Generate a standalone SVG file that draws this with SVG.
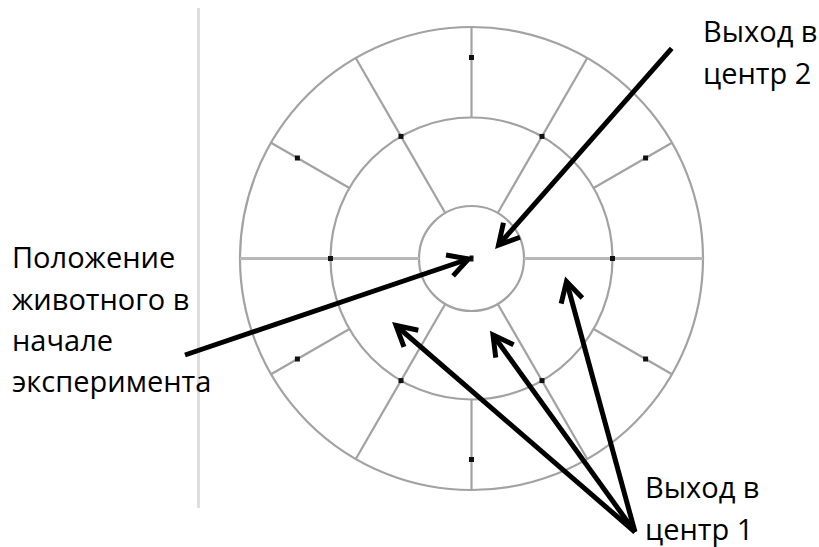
<svg xmlns="http://www.w3.org/2000/svg" xmlns:xlink="http://www.w3.org/1999/xlink" width="819" height="547" viewBox="0 0 819 547">
  <style>
    .grid { fill: none; stroke: #a2a2a2; stroke-width: 2.2; }
    .axis { fill: none; stroke: #b8b8b8; stroke-width: 3; }
    .frame { fill: none; stroke: #dedede; stroke-width: 3; }
    .arrow { fill: none; stroke: #000; stroke-width: 5; marker-end: url(#head); }
    .label { font-family: "Open Sans", "Noto Sans", "Liberation Sans", sans-serif; font-size: 29px; fill: #000; }
  </style>
  <defs>
    <marker id="head" markerUnits="userSpaceOnUse" markerWidth="40" markerHeight="40" viewBox="-30 -20 40 40" refX="0" refY="0" orient="auto" overflow="visible">
      <path d="M-20,-11 L0,0 L-20,11" fill="none" stroke="#000" stroke-width="5"/>
    </marker>
    <rect id="dot" x="-2.5" y="-2.5" width="5" height="5" fill="#111"/>
  </defs>
  <rect width="819" height="547" fill="#fff"/>

  <g id="maze">
    <line class="frame" x1="198.5" y1="8" x2="198.5" y2="508"/>
    <circle class="grid" cx="471.5" cy="258.5" r="231.5"/>
    <circle class="grid" cx="471.5" cy="258.5" r="141"/>
    <circle class="grid" cx="471.5" cy="258.5" r="52.5"/>
    <line class="axis" x1="240" y1="258.5" x2="419" y2="258.5"/>
    <line class="axis" x1="524" y1="258.5" x2="703" y2="258.5"/>
    <g class="grid">
      <line x1="593.6" y1="188" x2="672" y2="142.75"/>
      <line x1="542" y1="136.4" x2="587.25" y2="58"/>
      <line x1="471.5" y1="117.5" x2="471.5" y2="27"/>
      <line x1="401" y1="136.4" x2="355.75" y2="58"/>
      <line x1="349.4" y1="188" x2="271" y2="142.75"/>
      <line x1="349.4" y1="329" x2="271" y2="374.25"/>
      <line x1="401" y1="380.6" x2="355.75" y2="459"/>
      <line x1="471.5" y1="399.5" x2="471.5" y2="490"/>
      <line x1="542" y1="380.6" x2="587.25" y2="459"/>
      <line x1="593.6" y1="329" x2="672" y2="374.25"/>
      <line x1="497.75" y1="213.03" x2="542" y2="136.4"/>
      <line x1="445.25" y1="213.03" x2="401" y2="136.4"/>
      <line x1="445.25" y1="303.97" x2="401" y2="380.6"/>
      <line x1="497.75" y1="303.97" x2="542" y2="380.6"/>
    </g>
    <g id="dots">
      <use xlink:href="#dot" x="612.5" y="258.5"/>
      <use xlink:href="#dot" x="542" y="136.4"/>
      <use xlink:href="#dot" x="401" y="136.4"/>
      <use xlink:href="#dot" x="330.5" y="258.5"/>
      <use xlink:href="#dot" x="401" y="380.6"/>
      <use xlink:href="#dot" x="542" y="380.6"/>
      <use xlink:href="#dot" x="645.6" y="158"/>
      <use xlink:href="#dot" x="471.5" y="57.5"/>
      <use xlink:href="#dot" x="297.4" y="158"/>
      <use xlink:href="#dot" x="297.4" y="359"/>
      <use xlink:href="#dot" x="471.5" y="459.5"/>
      <use xlink:href="#dot" x="645.6" y="359"/>
      <rect x="469.5" y="255.5" width="4" height="6" fill="#111"/>
    </g>
  </g>

  <g id="connectors">
    <line class="arrow" x1="671.7" y1="48.3" x2="498.5" y2="245"/>
    <line class="arrow" x1="185" y1="355" x2="468.5" y2="259"/>
    <line class="arrow" x1="635" y1="532" x2="396" y2="325.5"/>
    <line class="arrow" x1="635" y1="532" x2="493" y2="335"/>
    <line class="arrow" x1="635" y1="532" x2="566.5" y2="281.5"/>
  </g>

  <g id="label-exit2">
    <text class="label" x="703" y="42">Выход в</text>
    <text class="label" x="703" y="84">центр 2</text>
  </g>
  <g id="label-start">
    <text class="label" x="12" y="268">Положение</text>
    <text class="label" x="12" y="310">животного в</text>
    <text class="label" x="12" y="351">начале</text>
    <text class="label" x="12" y="392">эксперимента</text>
  </g>
  <g id="label-exit1">
    <text class="label" x="645" y="498">Выход в</text>
    <text class="label" x="645" y="540">центр 1</text>
  </g>
</svg>
